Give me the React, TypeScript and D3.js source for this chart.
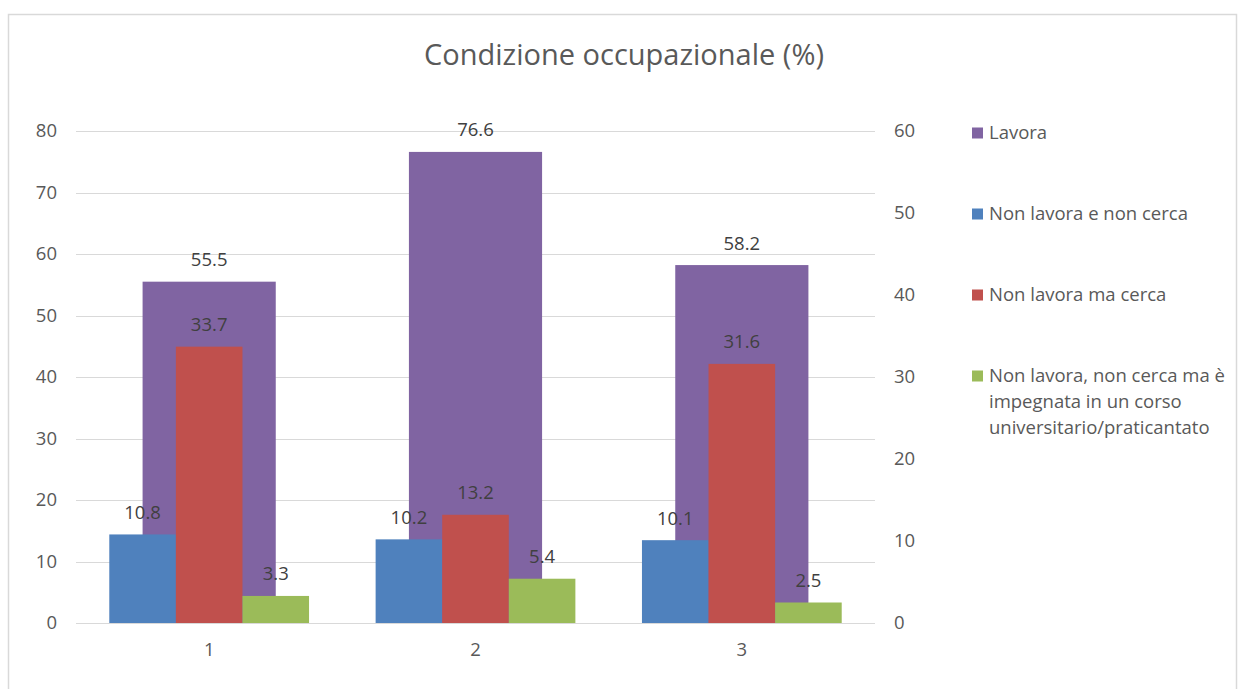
import React from "react";
import * as d3 from "d3";

const categories = ["1", "2", "3"];
const lavora = [55.5, 76.6, 58.2];
const nonLavoraNonCerca = [10.8, 10.2, 10.1];
const nonLavoraMaCerca = [33.7, 13.2, 31.6];
const nonLavoraCorso = [3.3, 5.4, 2.5];
const leftTicks = [0, 10, 20, 30, 40, 50, 60, 70, 80];
const rightTicks = [0, 10, 20, 30, 40, 50, 60];
const title = "Condizione occupazionale (%)";

const secondarySeries = [
  { name: "Non lavora e non cerca", values: nonLavoraNonCerca, color: "#4F81BD" },
  { name: "Non lavora ma cerca", values: nonLavoraMaCerca, color: "#C0504D" },
  { name: "Non lavora, non cerca ma è impegnata in un corso universitario/praticantato", values: nonLavoraCorso, color: "#9BBB59" },
];
const legendItems = [
  { lines: ["Lavora"], color: "#8064A2" },
  { lines: ["Non lavora e non cerca"], color: "#4F81BD" },
  { lines: ["Non lavora ma cerca"], color: "#C0504D" },
  { lines: ["Non lavora, non cerca ma è", "impegnata in un corso", "universitario/praticantato"], color: "#9BBB59" },
];

const FONT = "'Open Sans', 'Noto Sans', sans-serif";

export default function App() {
  const W = 1246, H = 689;
  const left = 76, right = 875, top = 131, bottom = 623;
  const yL = d3.scaleLinear().domain([0, 80]).range([bottom, top]);
  const yR = d3.scaleLinear().domain([0, 60]).range([bottom, top]);
  const xPrim = d3.scaleBand<string>().domain(categories).range([left, right]).paddingInner(0.5).paddingOuter(0.25);
  const xSec = d3.scaleBand<string>().domain(categories).range([left, right]).paddingInner(0.25).paddingOuter(0.125);
  const xInner = d3.scaleBand<number>().domain(secondarySeries.map((_, i) => i)).range([0, xSec.bandwidth()]);
  const xCenter = d3.scaleBand<string>().domain(categories).range([left, right]);

  const labelColor = "#404040";
  const axisColor = "#595959";
  const fs = 18.5;

  return (
    <svg width={W} height={H} style={{ position: "absolute", left: 0, top: 0, fontFamily: FONT }}>
      <rect x={8.5} y={14.5} width={1228} height={700} fill="#fff" stroke="#d9d9d9" strokeWidth={1.5} />
      <text x={624} y={65} textAnchor="middle" fontSize={29} fill={axisColor}>{title}</text>
      {leftTicks.map((t) => (
        <g key={"l" + t}>
          <line x1={left} x2={right} y1={Math.round(yL(t)) + 0.5} y2={Math.round(yL(t)) + 0.5} stroke="#d9d9d9" strokeWidth={1} />
          <text x={57} y={yL(t)} dy="0.35em" textAnchor="end" fontSize={fs} fill={axisColor}>{t}</text>
        </g>
      ))}
      {rightTicks.map((t) => (
        <text key={"r" + t} x={894} y={yR(t)} dy="0.35em" textAnchor="start" fontSize={fs} fill={axisColor}>{t}</text>
      ))}
      {categories.map((c, i) => (
        <rect key={"p" + c} x={xPrim(c)} y={yL(lavora[i])} width={xPrim.bandwidth()} height={yL(0) - yL(lavora[i])} fill="#8064A2" />
      ))}
      {secondarySeries.map((s, si) =>
        categories.map((c, i) => (
          <rect key={s.name + c} x={(xSec(c) as number) + (xInner(si) as number)} y={yR(s.values[i])} width={xInner.bandwidth()} height={yR(0) - yR(s.values[i])} fill={s.color} />
        ))
      )}
      {categories.map((c, i) => (
        <text key={"pl" + c} x={(xPrim(c) as number) + xPrim.bandwidth() / 2} y={yL(lavora[i]) - 22} dy="0.35em" textAnchor="middle" fontSize={fs} fill={labelColor}>{lavora[i].toFixed(1)}</text>
      ))}
      {secondarySeries.map((s, si) =>
        categories.map((c, i) => (
          <text key={"sl" + s.name + c} x={(xSec(c) as number) + (xInner(si) as number) + xInner.bandwidth() / 2} y={yR(s.values[i]) - 22} dy="0.35em" textAnchor="middle" fontSize={fs} fill={labelColor}>{s.values[i].toFixed(1)}</text>
        ))
      )}
      {categories.map((c) => (
        <text key={"x" + c} x={(xCenter(c) as number) + xCenter.bandwidth() / 2} y={650} dy="0.35em" textAnchor="middle" fontSize={fs} fill={axisColor}>{c}</text>
      ))}
      {legendItems.map((it, i) => {
        const y0 = 133 + i * 81;
        return (
          <g key={"lg" + i}>
            <rect x={972} y={y0 - 5.5} width={11} height={11} fill={it.color} />
            {it.lines.map((ln, j) => (
              <text key={j} x={989} y={y0 + j * 26} dy="0.35em" fontSize={fs} fill={axisColor}>{ln}</text>
            ))}
          </g>
        );
      })}
    </svg>
  );
}
